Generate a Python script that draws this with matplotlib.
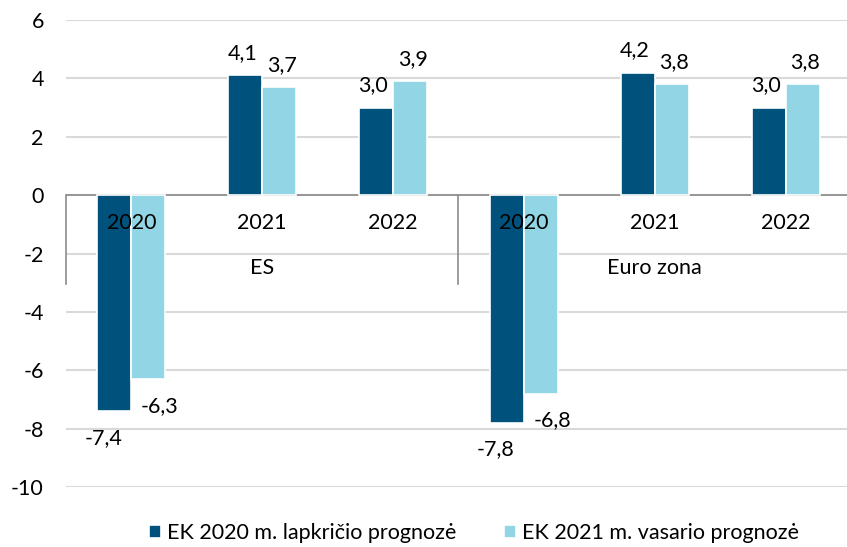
import matplotlib
matplotlib.use("Agg")
import matplotlib.pyplot as plt
import numpy as np

plt.rcParams['font.family'] = ['Lato', 'DejaVu Sans']

# ── data ──────────────────────────────────────────────
years = ["2020", "2021", "2022", "2020", "2021", "2022"]
groups = ["ES", "Euro zona"]
series_names = ["EK 2020 m. lapkričio prognozė", "EK 2021 m. vasario prognozė"]
nov_2020 = [-7.4, 4.1, 3.0, -7.8, 4.2, 3.0]
feb_2021 = [-6.3, 3.7, 3.9, -6.8, 3.8, 3.8]
yticks = [-10, -8, -6, -4, -2, 0, 2, 4, 6]

dark = "#00527d"
light = "#92d5e5"
FS = 15.5

fig = plt.figure(figsize=(8.47, 5.47), dpi=100)
ax = fig.add_axes([66 / 847, 1 - 487 / 547, 1 - 66 / 847, (487 - 20) / 547])

x = np.arange(len(years))
w = 0.26
b1 = ax.bar(x - 0.13, nov_2020, w, color=dark, edgecolor="white", linewidth=1.2,
            label=series_names[0], zorder=3)
b2 = ax.bar(x + 0.13, feb_2021, w, color=light, edgecolor="white", linewidth=1.2,
            label=series_names[1], zorder=3)

ax.set_ylim(-10, 6)
ax.set_xlim(-0.5, 5.47)
ax.set_yticks(yticks)
ax.set_yticklabels([str(t) for t in yticks], fontsize=FS)
ax.tick_params(axis="y", length=0, pad=16)
ax.set_xticks([])
ax.grid(axis="y", color="#d9d9d9", linewidth=1.5, zorder=0)
for s in ax.spines.values():
    s.set_visible(False)

# zero line and group separators
ax.axhline(0, color="#8c8c8c", linewidth=1.2, zorder=2)
for xs in [-0.5, 2.5]:
    ax.plot([xs, xs], [0, -3.05], color="#8c8c8c", linewidth=1.2, zorder=2, clip_on=False)

# category and group labels
for i, yr in enumerate(years):
    ax.text(i, -0.95, yr, ha="center", va="center", fontsize=FS, zorder=5)
for g, name in enumerate(groups):
    ax.text(g * 3 + 1, -2.5, name, ha="center", va="center", fontsize=FS, zorder=5)

# value labels
def fmt(v):
    return f"{v:.1f}".replace(".", ",")

for bars, vals, dx in [(b1, nov_2020, -4), (b2, feb_2021, 4)]:
    for bar, v in zip(bars, vals):
        cx = bar.get_x() + bar.get_width() / 2
        if v >= 0:
            ax.annotate(fmt(v), (cx, v), xytext=(dx / 2, 9), textcoords="offset points",
                        ha="center", va="bottom", fontsize=FS, zorder=5)
        else:
            ax.annotate(fmt(v), (cx, v), xytext=(dx * 2, -12), textcoords="offset points",
                        ha="center", va="top", fontsize=FS, zorder=5)

fig.legend(handles=[b1, b2], labels=series_names, loc="lower center",
           bbox_to_anchor=(0.56, -0.028), ncol=2, frameon=False, fontsize=FS,
           handlelength=0.55, handleheight=0.55, handletextpad=0.3, columnspacing=2.2)

fig.savefig("out.png", dpi=100)
